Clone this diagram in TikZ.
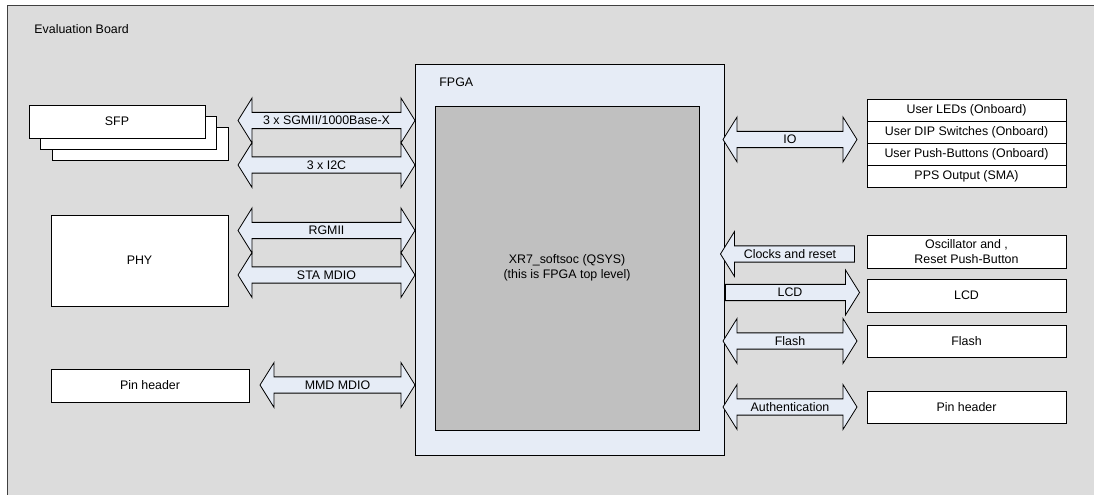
\documentclass[tikz,border=0pt]{standalone}
\usepackage{fontspec}
\setmainfont{Liberation Sans}
\usetikzlibrary{shapes.arrows}
\definecolor{boardgrey}{RGB}{220,220,220}
\definecolor{fpgablue}{RGB}{230,236,246}
\definecolor{coregrey}{RGB}{192,192,192}

\begin{document}
\begin{tikzpicture}[
  x=0.75pt,y=-0.75pt,
  font=\fontsize{9.3}{11}\selectfont,
  line width=0.6pt,
  box/.style={draw, fill=white, minimum width=149.25pt, minimum height=24.75pt, inner sep=0pt, align=center},
  row/.style={box, minimum height=16.5pt},
  bus/.style={double arrow, draw, fill=fpgablue, inner sep=0pt, text height=9.15pt, text depth=2.45pt,
    double arrow head extend=10.7pt, double arrow tip angle=116, minimum height=#1},
  onebus/.style={single arrow, draw, fill=fpgablue, inner sep=0pt, text height=9.15pt, text depth=2.45pt,
    single arrow head extend=10.7pt, single arrow tip angle=116, minimum height=#1}
]
\useasboundingbox (0,0) rectangle (1094,495);
\draw[black!75, fill=boardgrey] (7,5) rectangle (1110,510);
\node[anchor=west, inner sep=0pt] (board) at (34,29) {Evaluation Board};

% FPGA
\node[draw, fill=fpgablue, minimum width=231.75pt, minimum height=293.25pt] (fpga) at (569.5,259.5) {};
\node[anchor=west, inner sep=0pt] (fpgalabel) at (439,82) {FPGA};
\node[draw, fill=coregrey, minimum width=198pt, minimum height=243pt, align=center] (core) at (567,268)
  {XR7\_softsoc (QSYS)\\(this is FPGA top level)};

% left side
\node[box, minimum width=132pt] (sfpc) at (140,143.5) {};
\node[box, minimum width=132pt] (sfpb) at (128.5,132.5) {};
\node[box, minimum width=132pt] (sfp) at (117,121.5) {SFP};
\node[box, minimum width=132.75pt, minimum height=68.25pt] (phy) at (139.5,260.5) {PHY};
\node[box, minimum width=148.5pt] (pinl) at (150,385.5) {Pin header};

\node[bus=132.75pt] (sgmii) at (326.5,120.5) {3 x SGMII/1000Base-X};
\node[bus=132.75pt] (iic) at (326.5,165) {3 x I2C};
\node[bus=132.75pt] (rgmii) at (326.5,230.5) {RGMII};
\node[bus=132.75pt] (mdio) at (326.5,275) {STA MDIO};
\node[bus=116.25pt] (mmd) at (337.5,385) {MMD MDIO};

% right side
\node[row] (leds) at (966.5,110) {User LEDs (Onboard)};
\node[row] (dip) at (966.5,132) {User DIP Switches (Onboard)};
\node[row] (btn) at (966.5,154) {User Push-Buttons (Onboard)};
\node[row] (pps) at (966.5,176) {PPS Output (SMA)};
\node[box] (osc) at (966.5,251.5) {Oscillator and ,\\Reset Push-Button};
\node[box] (lcd) at (966.5,295.5) {LCD};
\node[box, minimum height=24pt] (flash) at (966.5,341) {Flash};
\node[box, minimum height=24pt] (pinr) at (966.5,407) {Pin header};

\node[bus=100.5pt] (io) at (790,139.5) {IO};
\node[onebus=100.5pt, shape border rotate=180] (clk) at (790,254) {Clocks and reset};
\node[onebus=100.5pt] (lcdbus) at (790,292.5) {LCD};
\node[bus=100.5pt] (flashbus) at (790,341) {Flash};
\node[bus=100.5pt] (auth) at (790,407) {Authentication};
\end{tikzpicture}
\end{document}
